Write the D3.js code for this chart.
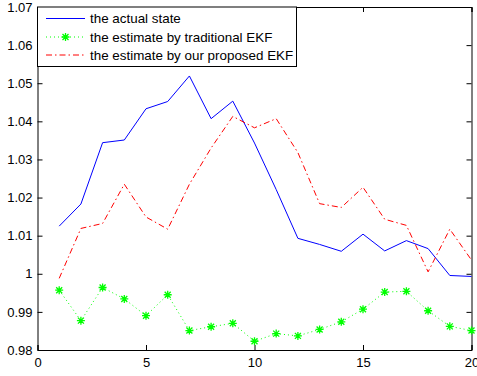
<!DOCTYPE html>
<html>
<head>
<meta charset="utf-8">
<script src="https://cdn.jsdelivr.net/npm/d3@7"></script>
<style>
  body { margin: 0; background: #fff; }
  text { font-family: "Liberation Sans", Arial, sans-serif; }
</style>
</head>
<body>
<div class="chart"></div>
<script>
// data
let steps = d3.range(1, 21);
let actualState = [1.0125, 1.0183, 1.0344, 1.0351, 1.0433, 1.0452, 1.0519, 1.0407, 1.0453, 1.0343,
  1.0221, 1.0093, 1.0077, 1.0059, 1.0104, 1.0060, 1.0087, 1.0066, 0.99955, 0.9993];
let traditionalEkf = [0.9957, 0.9877, 0.9964, 0.9934, 0.9890, 0.9945, 0.9851, 0.9861, 0.9870, 0.9823,
  0.9843, 0.9837, 0.9854, 0.9874, 0.9907, 0.9952, 0.9954, 0.9903, 0.9862, 0.9851];
let proposedEkf = [0.9988, 1.0119, 1.0132, 1.0235, 1.0149, 1.0117, 1.0235, 1.0330, 1.0413, 1.0383,
  1.0407, 1.0318, 1.0184, 1.0174, 1.0227, 1.0143, 1.0127, 1.0005, 1.0117, 1.0036];
let xTicks = [0, 5, 10, 15, 20];
let yTicks = [0.98, 0.99, 1.00, 1.01, 1.02, 1.03, 1.04, 1.05, 1.06, 1.07];
let legendLabels = ["the actual state", "the estimate by traditional EKF", "the estimate by our proposed EKF"];

let width = 477, height = 376;
let margin = { left: 37.5, right: 5.5, top: 7, bottom: 26 };

let svg = d3.select(".chart").append("svg").attr("width", width).attr("height", height);

let x = d3.scaleLinear().domain([0, 20]).range([margin.left, width - margin.right]);
let y = d3.scaleLinear().domain([0.98, 1.07]).range([height - margin.bottom, margin.top]);

// axes, matlab style: ticks inside on all four sides
let fmtY = d => d === 1 ? "1" : d3.format(".2f")(d);
let axBottom = svg.append("g").attr("transform", `translate(0,${y(0.98)})`)
  .call(d3.axisBottom(x).tickValues(xTicks).tickSize(-5).tickPadding(8).tickFormat(d3.format("d")));
let axTop = svg.append("g").attr("transform", `translate(0,${y(1.07)})`)
  .call(d3.axisTop(x).tickValues(xTicks).tickSize(-5).tickFormat(""));
let axLeft = svg.append("g").attr("transform", `translate(${x(0)},0)`)
  .call(d3.axisLeft(y).tickValues(yTicks).tickSize(-5).tickPadding(5).tickFormat(fmtY));
let axRight = svg.append("g").attr("transform", `translate(${x(20)},0)`)
  .call(d3.axisRight(y).tickValues(yTicks).tickSize(-5).tickFormat(""));

[axBottom, axTop, axLeft, axRight].forEach(g => {
  g.selectAll("path").attr("stroke", "#000").attr("stroke-width", 1);
  g.selectAll("line").attr("stroke", "#000").attr("stroke-width", 1);
  g.selectAll("text").attr("fill", "#000").style("font-size", "13px");
});

let line = d3.line().x((d, i) => x(steps[i])).y(d => y(d));

// the three series
svg.append("path").datum(actualState).attr("d", line)
  .attr("fill", "none").attr("stroke", "#0000ff").attr("stroke-width", 1);

svg.append("path").datum(proposedEkf).attr("d", line)
  .attr("fill", "none").attr("stroke", "#ff0000").attr("stroke-width", 1)
  .attr("stroke-dasharray", "6,3,1.5,3");

svg.append("path").datum(traditionalEkf).attr("d", line)
  .attr("fill", "none").attr("stroke", "#00ff00").attr("stroke-width", 1)
  .attr("stroke-dasharray", "1,3");

let star = "M-4,0H4M0,-4V4M-3,-3L3,3M-3,3L3,-3";
svg.append("g").selectAll("path")
  .data(traditionalEkf)
  .enter()
  .append("path")
  .attr("transform", (d, i) => `translate(${x(steps[i])},${y(d)})`)
  .attr("d", star)
  .attr("stroke", "#00ff00")
  .attr("stroke-width", 1.3)
  .attr("fill", "none");

// legend
let legend = svg.append("g");
legend.append("rect")
  .attr("x", 37.5).attr("y", 7).attr("width", 259).attr("height", 59.5)
  .attr("fill", "#fff").attr("stroke", "#000").attr("stroke-width", 1);

let rowsY = [18.5, 37, 55];
let styles = [
  { color: "#0000ff", dash: null },
  { color: "#00ff00", dash: "1,3" },
  { color: "#ff0000", dash: "6,3,1.5,3" }
];
legendLabels.forEach((label, i) => {
  legend.append("line")
    .attr("x1", 46).attr("x2", 85).attr("y1", rowsY[i]).attr("y2", rowsY[i])
    .attr("stroke", styles[i].color).attr("stroke-width", 1)
    .attr("stroke-dasharray", styles[i].dash);
  if (i === 1) {
    legend.append("path")
      .attr("transform", `translate(65.5,${rowsY[i]})`)
      .attr("d", star).attr("stroke", "#00ff00").attr("stroke-width", 1.3);
  }
  legend.append("text")
    .attr("x", 90).attr("y", rowsY[i]).attr("dy", "0.35em")
    .style("font-size", "13.4px").attr("fill", "#000")
    .text(label);
});
</script>
</body>
</html>
